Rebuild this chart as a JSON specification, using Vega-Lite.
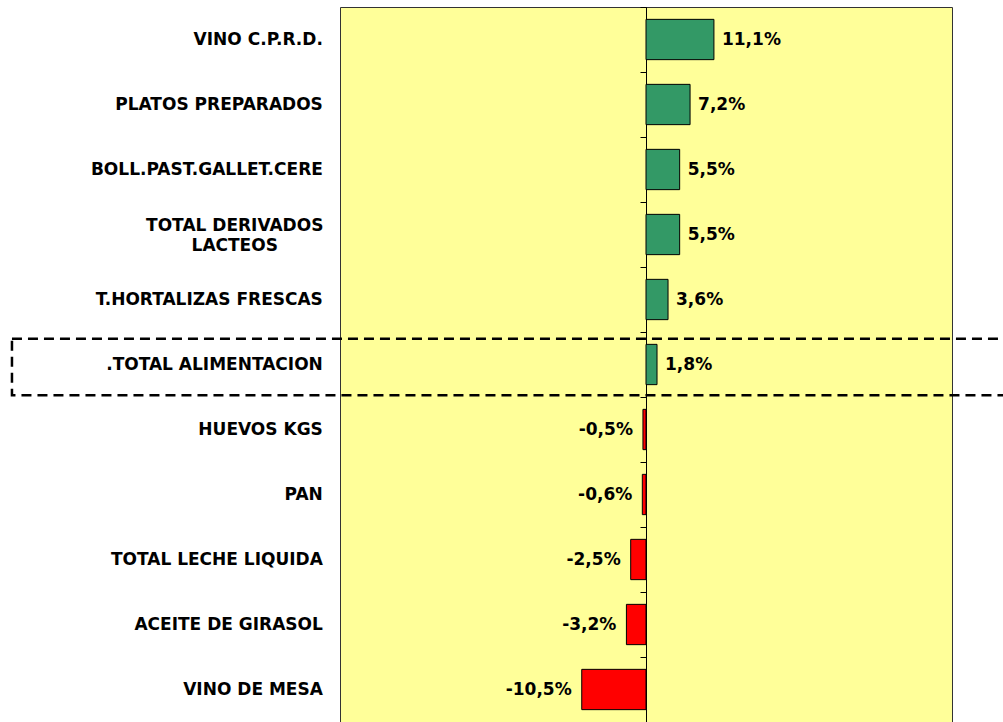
{
  "$schema": "https://vega.github.io/schema/vega-lite/v6.json",
  "width": 612,
  "height": 715,
  "autosize": {"type": "none"},
  "padding": {"left": 340, "top": 7, "right": 51, "bottom": 0},
  "background": "#FFFFFF",
  "config": {
    "view": {"fill": "#FFFF99", "stroke": "#333333", "strokeWidth": 1},
    "text": {"font": "DejaVu Sans", "fontWeight": "bold", "fontSize": 17, "fill": "#000000"}
  },
  "data": {
    "values": [
      {"cat": "VINO C.P.R.D.", "v": 11.1},
      {"cat": "PLATOS PREPARADOS", "v": 7.2},
      {"cat": "BOLL.PAST.GALLET.CERE", "v": 5.5},
      {"cat": "TOTAL DERIVADOS\nLACTEOS", "v": 5.5},
      {"cat": "T.HORTALIZAS FRESCAS", "v": 3.6},
      {"cat": ".TOTAL ALIMENTACION", "v": 1.8},
      {"cat": "HUEVOS KGS", "v": -0.5},
      {"cat": "PAN", "v": -0.6},
      {"cat": "TOTAL LECHE LIQUIDA", "v": -2.5},
      {"cat": "ACEITE DE GIRASOL", "v": -3.2},
      {"cat": "VINO DE MESA", "v": -10.5}
    ]
  },
  "transform": [
    {"calculate": "replace(replace(format(datum.v, '.1f'), '.', ','), '−', '-') + '%'", "as": "lab"}
  ],
  "encoding": {
    "y": {
      "field": "cat",
      "type": "nominal",
      "sort": null,
      "scale": {
        "domain": ["VINO C.P.R.D.", "PLATOS PREPARADOS", "BOLL.PAST.GALLET.CERE", "TOTAL DERIVADOS\nLACTEOS", "T.HORTALIZAS FRESCAS", ".TOTAL ALIMENTACION", "HUEVOS KGS", "PAN", "TOTAL LECHE LIQUIDA", "ACEITE DE GIRASOL", "VINO DE MESA"],
        "paddingInner": 0,
        "paddingOuter": 0
      },
      "axis": {
        "orient": "left",
        "offset": -306,
        "labels": false,
        "title": null,
        "grid": false,
        "ticks": true,
        "tickBand": "extent",
        "tickSize": 6,
        "tickColor": "#000000",
        "domain": true,
        "domainColor": "#000000",
        "domainWidth": 1
      }
    }
  },
  "layer": [
    {
      "mark": {"type": "bar", "height": {"band": 0.62}, "stroke": "#000000", "strokeWidth": 1},
      "encoding": {
        "x": {"field": "v", "type": "quantitative", "scale": {"domain": [-50, 50], "nice": false, "zero": false}, "axis": null},
        "color": {
          "condition": {"test": "datum.v < 0", "value": "#FF0000"},
          "value": "#339966"
        }
      }
    },
    {
      "transform": [{"filter": "datum.cat == '.TOTAL ALIMENTACION'"}],
      "mark": {"type": "bar", "height": {"band": 0.87}, "yOffset": 2.5, "fill": "#FFFFFF", "fillOpacity": 0, "stroke": "#000000", "strokeWidth": 2.5, "strokeDash": [10, 6], "clip": false},
      "encoding": {
        "x": {"datum": -103.6, "type": "quantitative"},
        "x2": {"datum": 62}
      }
    },
    {
      "transform": [{"filter": "datum.v >= 0"}],
      "mark": {"type": "text", "align": "left", "baseline": "middle", "dx": 8, "fontSize": 17},
      "encoding": {
        "x": {"field": "v", "type": "quantitative"},
        "text": {"field": "lab"}
      }
    },
    {
      "transform": [{"filter": "datum.v < 0"}],
      "mark": {"type": "text", "align": "right", "baseline": "middle", "dx": -10, "fontSize": 17},
      "encoding": {
        "x": {"field": "v", "type": "quantitative"},
        "text": {"field": "lab"}
      }
    },
    {
      "transform": [{"filter": "indexof(datum.cat, '\\n') < 0"}],
      "mark": {"type": "text", "align": "right", "baseline": "middle", "fontSize": 17, "clip": false},
      "encoding": {
        "x": {"datum": -52.8, "type": "quantitative"},
        "text": {"field": "cat"}
      }
    },
    {
      "transform": [{"filter": "indexof(datum.cat, '\\n') >= 0"}],
      "mark": {"type": "text", "align": "center", "baseline": "middle", "fontSize": 17, "lineBreak": "\n", "lineHeight": 20, "dy": -9, "clip": false},
      "encoding": {
        "x": {"datum": -67.2, "type": "quantitative"},
        "text": {"field": "cat"}
      }
    }
  ]
}
